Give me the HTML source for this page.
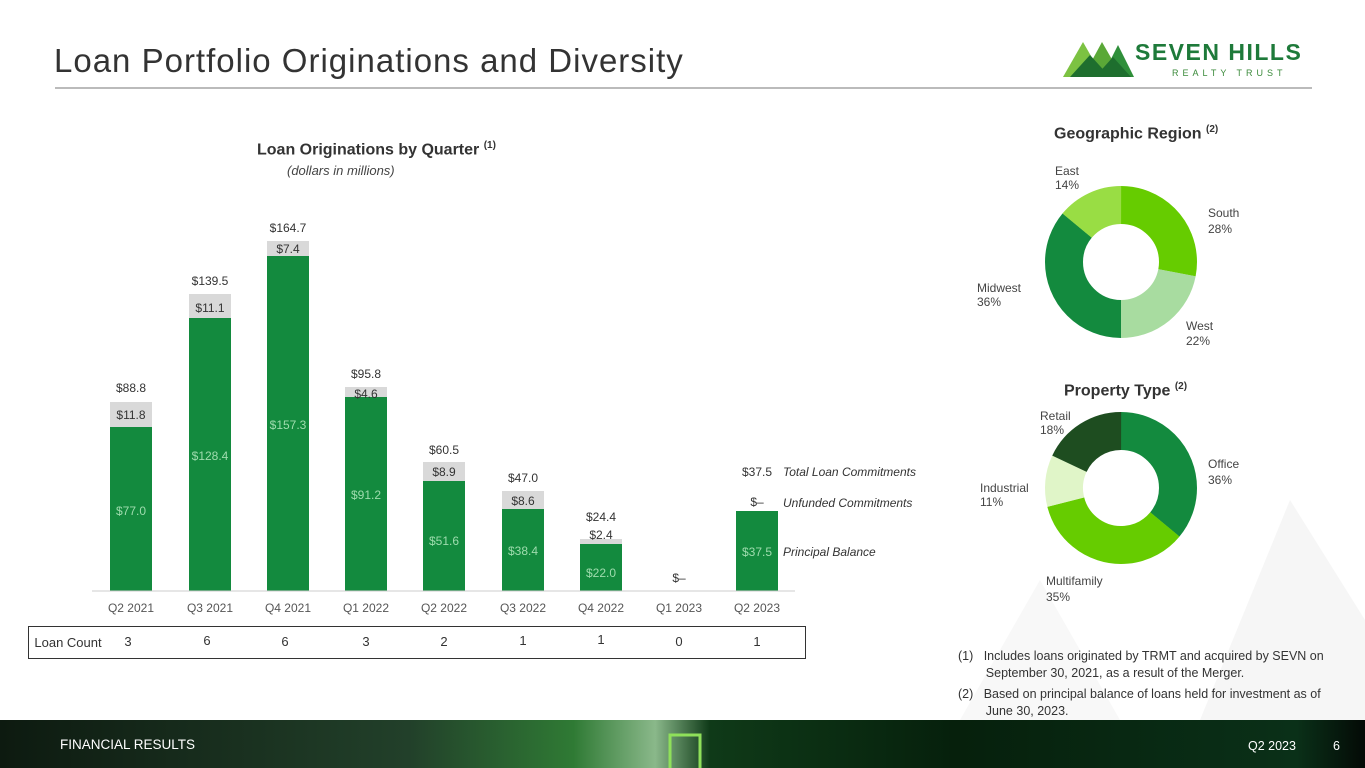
<!DOCTYPE html>
<html><head><meta charset="utf-8"><style>
body{margin:0;width:1365px;height:768px;position:relative;overflow:hidden;background:#fff;font-family:"Liberation Sans",sans-serif;color:#333}
.a{position:absolute;white-space:nowrap}
</style></head><body>
<svg class="a" style="left:0;top:0" width="1365" height="768">
<polygon points="1200,720 1290,500 1365,620 1365,720" fill="#f6f6f6"/>
<polygon points="960,720 1040,580 1120,720" fill="#f8f8f8"/>
<line x1="55" y1="88" x2="1312" y2="88" stroke="#777" stroke-width="1"/>
<!-- logo -->
<polygon points="1063,77 1083,42 1103,77" fill="#7cc242"/>
<polygon points="1083,77 1102,42 1122,77" fill="#5aa837"/>
<polygon points="1102,77 1118,45 1134,77" fill="#2f8f3a"/>
<polygon points="1070,77 1090,55 1110,77" fill="#1e6e2e"/>
<polygon points="1095,77 1113,57 1131,77" fill="#1e6e2e"/>
<text x="1135" y="60" font-size="23" font-weight="bold" fill="#1e7a3a" letter-spacing="1.5">SEVEN HILLS</text>
<text x="1172" y="76" font-size="9" fill="#3a8a3a" letter-spacing="4">REALTY TRUST</text>
<!-- bars -->
<g font-size="12" text-anchor="middle">
<rect x="110" y="402" width="42" height="25" fill="#d9d9d9"/><rect x="110" y="427" width="42" height="164" fill="#138a3e"/>
<rect x="189" y="294" width="42" height="24" fill="#d9d9d9"/><rect x="189" y="318" width="42" height="273" fill="#138a3e"/>
<rect x="267" y="241" width="42" height="15" fill="#d9d9d9"/><rect x="267" y="256" width="42" height="335" fill="#138a3e"/>
<rect x="345" y="387" width="42" height="10" fill="#d9d9d9"/><rect x="345" y="397" width="42" height="194" fill="#138a3e"/>
<rect x="423" y="462" width="42" height="19" fill="#d9d9d9"/><rect x="423" y="481" width="42" height="110" fill="#138a3e"/>
<rect x="502" y="491" width="42" height="18" fill="#d9d9d9"/><rect x="502" y="509" width="42" height="82" fill="#138a3e"/>
<rect x="580" y="539" width="42" height="5" fill="#d9d9d9"/><rect x="580" y="544" width="42" height="47" fill="#138a3e"/>
<rect x="736" y="511" width="42" height="80" fill="#138a3e"/>
<line x1="92" y1="591" x2="795" y2="591" stroke="#ccc"/>
<g fill="#333">
<text x="131" y="392">$88.8</text><text x="131" y="419">$11.8</text>
<text x="210" y="285">$139.5</text><text x="210" y="312">$11.1</text>
<text x="288" y="232">$164.7</text><text x="288" y="253">$7.4</text>
<text x="366" y="378">$95.8</text><text x="366" y="398">$4.6</text>
<text x="444" y="454">$60.5</text><text x="444" y="476">$8.9</text>
<text x="523" y="482">$47.0</text><text x="523" y="505">$8.6</text>
<text x="601" y="521">$24.4</text><text x="601" y="539">$2.4</text>
<text x="679" y="582">$–</text>
<text x="757" y="476">$37.5</text><text x="757" y="506">$–</text>
</g>
<g fill="#9fdcae">
<text x="131" y="515">$77.0</text><text x="210" y="460">$128.4</text><text x="288" y="429">$157.3</text>
<text x="366" y="499">$91.2</text><text x="444" y="545">$51.6</text><text x="523" y="555">$38.4</text>
<text x="601" y="577">$22.0</text><text x="757" y="556">$37.5</text>
</g>
<g fill="#555">
<text x="131" y="612">Q2 2021</text><text x="210" y="612">Q3 2021</text><text x="288" y="612">Q4 2021</text>
<text x="366" y="612">Q1 2022</text><text x="444" y="612">Q2 2022</text><text x="523" y="612">Q3 2022</text>
<text x="601" y="612">Q4 2022</text><text x="679" y="612">Q1 2023</text><text x="757" y="612">Q2 2023</text>
</g>
</g>
<g font-size="12" font-style="italic" fill="#333">
<text x="783" y="476">Total Loan Commitments</text>
<text x="783" y="507">Unfunded Commitments</text>
<text x="783" y="556">Principal Balance</text>
</g>
<rect x="28.5" y="626.5" width="777" height="32" fill="none" stroke="#333"/>
<g font-size="13" fill="#333" text-anchor="middle">
<text x="68" y="647">Loan Count</text>
<text x="128" y="646">3</text><text x="207" y="645">6</text><text x="285" y="646">6</text><text x="366" y="646">3</text>
<text x="444" y="646">2</text><text x="523" y="645">1</text><text x="601" y="644">1</text><text x="679" y="646">0</text><text x="757" y="646">1</text>
</g>
<!-- donuts -->
<g transform="translate(1121,262)" fill="none" stroke-width="38">
<circle r="57" stroke="#66cc00" stroke-dasharray="100.3 258.1" transform="rotate(-90)"/>
<circle r="57" stroke="#a8dca0" stroke-dasharray="78.8 279.6" transform="rotate(10.8)"/>
<circle r="57" stroke="#138a3e" stroke-dasharray="129 229.4" transform="rotate(90)"/>
<circle r="57" stroke="#99dd44" stroke-dasharray="50.2 308.2" transform="rotate(219.6)"/>
</g>
<g transform="translate(1121,488)" fill="none" stroke-width="38">
<circle r="57" stroke="#138a3e" stroke-dasharray="129 229.4" transform="rotate(-90)"/>
<circle r="57" stroke="#66cc00" stroke-dasharray="125.4 233" transform="rotate(39.6)"/>
<circle r="57" stroke="#e0f5c8" stroke-dasharray="39.4 319" transform="rotate(165.6)"/>
<circle r="57" stroke="#1e4d20" stroke-dasharray="64.5 293.9" transform="rotate(205.2)"/>
</g>
<g font-size="12" fill="#444">
<text x="1055" y="175">East</text><text x="1055" y="189">14%</text>
<text x="1208" y="217">South</text><text x="1208" y="233">28%</text>
<text x="977" y="292">Midwest</text><text x="977" y="306">36%</text>
<text x="1186" y="330">West</text><text x="1186" y="345">22%</text>
<text x="1040" y="420">Retail</text><text x="1040" y="434">18%</text>
<text x="1208" y="468">Office</text><text x="1208" y="484">36%</text>
<text x="980" y="492">Industrial</text><text x="980" y="506">11%</text>
<text x="1046" y="585">Multifamily</text><text x="1046" y="601">35%</text>
</g>
<!-- footer -->
<defs><linearGradient id="fg" x1="0" x2="1"><stop offset="0" stop-color="#0d1a10"/><stop offset=".3" stop-color="#22402a"/><stop offset=".42" stop-color="#2f7a34"/><stop offset=".48" stop-color="#8ab88a"/><stop offset=".52" stop-color="#0f3a18"/><stop offset=".7" stop-color="#06200c"/><stop offset=".95" stop-color="#0a3018"/><stop offset="1" stop-color="#040a06"/></linearGradient></defs>
<rect x="0" y="720" width="1365" height="48" fill="url(#fg)"/>
<polyline points="670,768 670,735 700,735 700,768" fill="none" stroke="#8fe05a" stroke-width="3"/>
<text x="60" y="749" font-size="13.5" fill="#fff">FINANCIAL RESULTS</text>
<text x="1248" y="750" font-size="12.5" fill="#fff">Q2 2023</text>
<text x="1333" y="750" font-size="12.5" fill="#fff">6</text>
</svg>
<div class="a" style="left:54px;top:42px;font-size:33px;letter-spacing:1px;color:#333">Loan Portfolio Originations and Diversity</div>
<div class="a" style="left:257px;top:140px;font-size:16px;font-weight:bold;color:#333">Loan Originations by Quarter <sup style="font-size:10px">(1)</sup></div>
<div class="a" style="left:287px;top:163px;font-size:13px;font-style:italic;color:#444">(dollars in millions)</div>
<div class="a" style="left:1054px;top:124px;font-size:16px;font-weight:bold;color:#333">Geographic Region <sup style="font-size:10px">(2)</sup></div>
<div class="a" style="left:1064px;top:381px;font-size:16px;font-weight:bold;color:#333">Property Type <sup style="font-size:10px">(2)</sup></div>
<div class="a" style="left:958px;top:648px;font-size:12.5px;color:#333;line-height:17px">(1)&nbsp;&nbsp;&nbsp;Includes loans originated by TRMT and acquired by SEVN on<br>&nbsp;&nbsp;&nbsp;&nbsp;&nbsp;&nbsp;&nbsp;&nbsp;September 30, 2021, as a result of the Merger.</div>
<div class="a" style="left:958px;top:686px;font-size:12.5px;color:#333;line-height:17px">(2)&nbsp;&nbsp;&nbsp;Based on principal balance of loans held for investment as of<br>&nbsp;&nbsp;&nbsp;&nbsp;&nbsp;&nbsp;&nbsp;&nbsp;June 30, 2023.</div>
</body></html>
